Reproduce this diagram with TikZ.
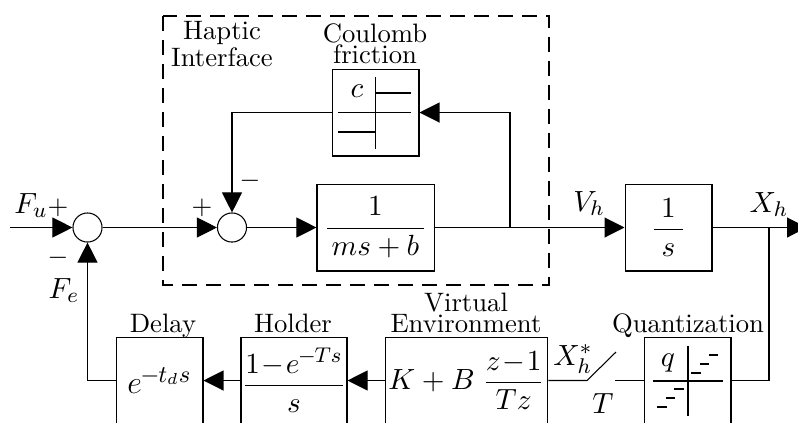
\documentclass[tikz,border=0pt]{standalone}
\usepackage{amsmath}
\usetikzlibrary{arrows.meta}
\tikzset{
  x=0.375pt,y=-0.375pt,line width=0.75pt,
  >={Triangle[length=7.5pt,width=7.5pt]},
  block/.style={draw,inner sep=0pt,minimum width=32.6pt,minimum height=32.6pt,font={\fontsize{11}{13}\selectfont}},
  sumnode/.style={draw,circle,inner sep=0pt,minimum size=10.9pt},
  tag/.style={inner sep=0pt,align=center,font={\fontsize{10}{8}\selectfont}},
  word/.style={inner sep=0pt,anchor=base},
  symb/.style={inner sep=0pt,anchor=base,font={\fontsize{11}{13}\selectfont}},
  sign/.style={inner sep=0pt},
}
\begin{document}
\begin{tikzpicture}
        \clip (0,0) rectangle (798,422);
        % Haptic interface frame
        \draw[dash pattern=on 5.6pt off 3.4pt](163,16) rectangle (549,285);
        % Blocks
        \node[sumnode](sumF) at (87.5,227.5){};
        \node[sumnode](sumV) at (232,227.5){};
        \node[block,minimum width=43.9pt](plant) at (375.5,227.5){$\displaystyle\frac{1}{\,ms+b\,}$};
        \node[block](coulomb) at (375.5,112.5){};
        \node[block](integ) at (668.5,227.5){$\displaystyle\frac{1}{\;s\;}$};
        \node[block,font={\fontsize{13}{15}\selectfont}](delay) at (159.5,380.5){$e^{\mkern-1mu-\mkern-1mu t_ds}$};
        \node[block,minimum width=39.75pt](holder) at (294,380.5){$\displaystyle\frac{1\!-\!e^{\mkern-1mu-\mkern-1mu Ts}}{s}$};
        \node[block,minimum width=61pt](virtual) at (466.5,380.5){$\displaystyle K+B\;\frac{z\!-\!1}{Tz}$};
        \node[block](quant) at (687.5,380.5){};
        % Free ends
        \coordinate(input) at (10,227.5);
        \coordinate(output) at (807,227.5);
        \coordinate(branchV) at (510,227.5);
        \coordinate(branchX) at (769,227.5);
        \coordinate(swA) at (587,380.5);
        \coordinate(swB) at (616,352);
        \coordinate(swC) at (615,380.5);
        % Forward path
        \draw[->](input)--(sumF);
        \draw[->](sumF)--(sumV);
        \draw[->](sumV)--(plant);
        \draw[->](plant)--(integ);
        \draw[->](integ)--(output);
        % Friction loop
        \draw[->](branchV)|-(coulomb);
        \draw[->](coulomb)-|(sumV);
        % Feedback path
        \draw(branchX)|-(quant);
        \draw(quant)--(swC);
        \draw(swB)--(swA)--(virtual);
        \draw[->](virtual)--(holder);
        \draw[->](holder)--(delay);
        \draw[->](delay)-|(sumF);
        % Coulomb friction symbol
        \draw(338,112.5)--(411,112.5);
        \draw(375.5,77)--(375.5,149);
        \draw(375.5,93)--(411,93);
        \draw(338,132)--(375.5,132);
        \node[symb](lblc) at (357,97){$c$};
        % Quantization symbol
        \draw(653,381)--(723,381);
        \draw(688,346)--(688,416);
        \draw(691,373)--(701,373);
        \draw(700,364)--(709,364);
        \draw(709,355)--(718,355);
        \draw(657,407)--(667,407);
        \draw(666,398)--(675,398);
        \draw(674,389)--(684,389);
        \node[symb](lblq) at (668,366){$q$};
        % Labels
        \node[tag](lblhaptic) at (222,44){Haptic\\Interface};
        \node[tag](lblcoulomb) at (375,44){Coulomb\\friction};
        \node[tag](lblvirtual) at (466,313){Virtual\\Environment};
        \node[word](lbldelay) at (163,332){Delay};
        \node[word](lblholder) at (293,332){Holder};
        \node[word](lblquant) at (688,332){Quantization};
        \node[symb](lblFu) at (31,213){$F_u$};
        \node[symb](lblFe) at (64,298){$F_e$};
        \node[sign](plusF) at (58,208){$+$};
        \node[sign](minusF) at (58,258){$-$};
        \node[sign](plusV) at (202,208){$+$};
        \node[sign](minusV) at (250,181){$-$};
        \node[symb](lblVh) at (589,211){$V_h$};
        \node[symb](lblXh) at (769,212){$X_h$};
        \node[symb](lblXs) at (573,365){$X_h^*$};
        \node[symb](lblT) at (603,413){$T$};
    \end{tikzpicture}
\end{document}
